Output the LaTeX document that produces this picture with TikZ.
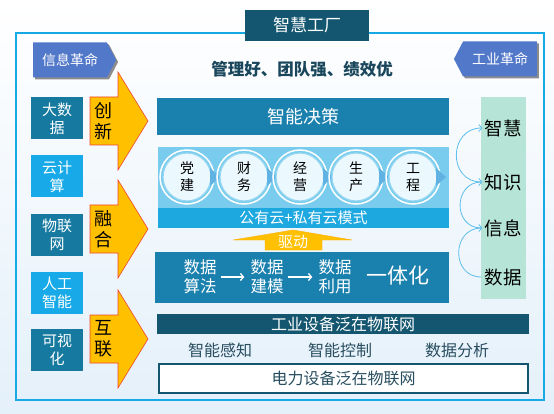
\documentclass[tikz,border=0pt]{standalone}
\usepackage{fontspec}
\setmainfont{Noto Sans CJK SC}
\usetikzlibrary{arrows.meta,positioning,shapes.symbols,shadows}
\definecolor{framecol}{RGB}{22,170,228}
\definecolor{titlecol}{RGB}{20,86,112}
\definecolor{revcol}{RGB}{82,120,202}
\definecolor{darkcell}{RGB}{22,122,160}
\definecolor{brightcell}{RGB}{24,170,232}
\definecolor{mainbar}{RGB}{26,128,174}
\definecolor{cloudlight}{RGB}{122,204,238}
\definecolor{cloudstrip}{RGB}{30,168,224}
\definecolor{chevcol}{RGB}{96,178,226}
\definecolor{arrowfill}{RGB}{255,192,0}
\definecolor{arrowedge}{RGB}{240,70,50}
\definecolor{greencol}{RGB}{182,228,214}
\definecolor{slogancol}{RGB}{25,70,90}
\definecolor{rowcol}{RGB}{40,78,96}
\definecolor{curvecol}{RGB}{92,190,235}
\definecolor{bgblue}{RGB}{228,240,250}
\newcommand{\fsz}[2]{\fontsize{#1}{#2}\selectfont}
\tikzset{
  titlebox/.style={fill=titlecol,text=white,minimum width=124pt,minimum height=31pt,
                   inner sep=0pt,font=\fsz{17}{20}},
  rev/.style={signal,fill=revcol,text=white,minimum width=83pt,minimum height=35pt,
              inner sep=2pt,signal pointer angle=125,font=\fsz{14}{17},
              drop shadow={fill=black!45,shadow xshift=2pt,shadow yshift=-2pt,opacity=1}},
  cell/.style={minimum width=52pt,minimum height=42pt,inner sep=0pt,text=white,
               align=center,font=\fsz{15}{18}},
  bigarrow/.style={fill=arrowfill,draw=arrowedge,line width=.6pt},
  arrowtxt/.style={align=center,inner sep=0pt,font=\fsz{18}{21}},
  bar/.style={fill=mainbar,text=white,inner sep=0pt,font=\fsz{18}{21}},
  ball/.style={circle,fill=white!92!cyan,draw=cloudlight!80!white,line width=1.2pt,
               minimum size=48pt,inner sep=0pt,align=center,font=\fsz{14}{17}},
  datatxt/.style={text=white,align=center,inner sep=2pt,font=\fsz{16.5}{19}},
  link/.style={-{Straight Barb[length=3pt,width=7pt]},white,line width=1.3pt,
               shorten <=2pt,shorten >=4pt},
  rowtxt/.style={text=rowcol,inner sep=0pt,font=\fsz{16}{19}},
  stage/.style={inner sep=1pt,font=\fsz{18.5}{21}},
  rise/.style={-{Straight Barb[length=3pt,width=7pt]},draw=curvecol,line width=.8pt},
}
\begin{document}
\begin{tikzpicture}[x=1pt,y=-1pt]
  \useasboundingbox (0,0) rectangle (554,414);
  \shade[top color=white,bottom color=bgblue] (0,0) rectangle (554,414);
  \draw[framecol,line width=2pt] (16,33) rectangle (544,400);
  \node[titlebox] (title) at (307,25.5) {智慧工厂};
  \node[rev,signal to=east] (info) at (70,60) {信息革命};
  \node[rev,signal to=west] (indu) at (500,59) {工业革命};
  \node[text=slogancol,font=\fsz{16.5}{19}\bfseries] (slogan) at (302,69)
    {管理好、团队强、绩效优};
  % left column
  \foreach \yc/\word/\col/\n in {118.5/{大数\\据}/darkcell/bigd,176.5/{云计\\算}/brightcell/cloudc,
      235/{物联\\网}/darkcell/iot,293/{人工\\智能}/brightcell/ai,350/{可视\\化}/darkcell/vis}
    \node[cell,fill=\col] (\n) at (57,\yc) {\word};
  % yellow arrows
  \foreach \yc/\word/\n in {121/{创\\新}/ar1,229/{融\\合}/ar2,339/{互\\联}/ar3}{
    \draw[bigarrow] (90,\yc-24) -- (118,\yc-24) -- (118,\yc-49) -- (148,\yc)
      -- (118,\yc+49) -- (118,\yc+24) -- (90,\yc+24) -- cycle;
    \node[arrowtxt] (\n) at (103,\yc) {\word};}
  % middle
  \node[bar,minimum width=292pt,minimum height=37pt] (decide) at (303,116.5) {智能决策};
  \node[fill=cloudlight,minimum width=291pt,minimum height=81pt,inner sep=0pt]
    (cloud) at (303.5,187.5) {};
  \node[fill=cloudstrip,text=white,minimum width=291pt,minimum height=20pt,inner sep=0pt,
        font=\fsz{15}{18}] (band) at (303.5,218) {公有云+私有云模式};
  \foreach \cx/\word/\n in {187/{党\\建}/party,244/{财\\务}/fin,300/{经\\营}/oper,
      356/{生\\产}/prod,413/{工\\程}/eng}{
    \draw[white,line width=1.5pt] (\cx,177) circle (27);
    \node[ball] (\n) at (\cx,177) {\word};
    \fill[chevcol] (\cx+23,168) -- (\cx+33,177) -- (\cx+23,186) -- cycle;}
  \draw[fill=arrowfill,draw=arrowfill!90!red] (265,250) -- (265,240) -- (233,240) -- (293,230)
    -- (352,240) -- (322,240) -- (322,250) -- cycle;
  \node[text=white,inner sep=0pt,font=\fsz{15}{18}] (drive) at (293,242) {驱动};
  \node[bar,minimum width=294pt,minimum height=51pt] (databox) at (302,277.5) {};
  \node[datatxt] (alg) at (200,277) {数据\\算法};
  \node[datatxt] (model) at (267,277) {数据\\建模};
  \node[datatxt] (use) at (335,277) {数据\\利用};
  \node[text=white,inner sep=0pt,font=\fsz{21}{24}] (unify) at (398,276) {一体化};
  \draw[link] (alg) -- (model);
  \draw[link] (model) -- (use);
  % bottom
  \node[fill=titlecol,text=white,minimum width=372pt,minimum height=20pt,inner sep=0pt,
        font=\fsz{16}{19}] (iotbar) at (343,324) {工业设备泛在物联网};
  \foreach \x/\word/\n in {220/智能感知/sense,340/智能控制/ctrl,457/数据分析/anal}
    \node[rowtxt] (\n) at (\x,350) {\word};
  \node[draw=titlecol,line width=2pt,fill=white,text=rowcol,minimum width=369pt,
        minimum height=29pt,inner sep=0pt,font=\fsz{16}{19}] (power) at (343.5,378.5)
    {电力设备泛在物联网};
  % right column
  \node[fill=greencol,minimum width=45pt,minimum height=202pt,inner sep=0pt]
    (col) at (503.5,198) {};
  \node[stage] (wis) at (503,128) {智慧};
  \node[stage] (kno) at (503,182) {知识};
  \node[stage] (inf) at (503,228) {信息};
  \node[stage] (dat) at (503,277) {数据};
  \foreach \a/\b in {dat/inf,inf/kno,kno/wis}
    \draw[rise] ([xshift=-2pt]\a.west) to[out=180,in=180,looseness=1.6] ([xshift=-1pt]\b.west);
\end{tikzpicture}
\end{document}
